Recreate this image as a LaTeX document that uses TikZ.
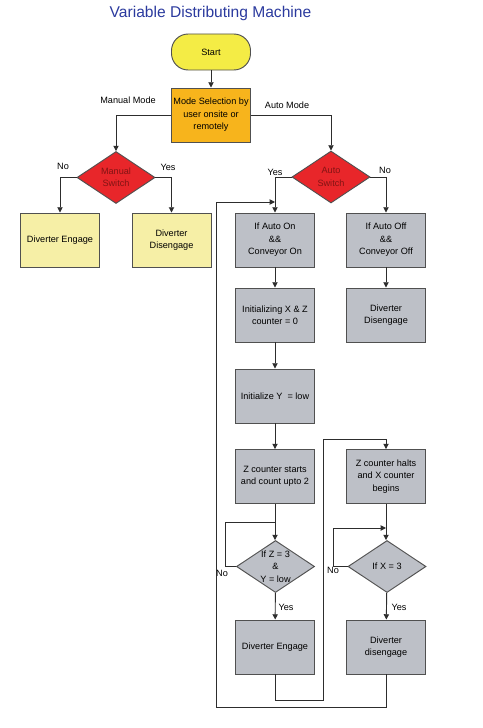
\documentclass[tikz,border=0pt]{standalone}
\usepackage{fontspec}
\setmainfont{Liberation Sans}
\usepackage{xcolor}
\usepackage{tikz}
\usetikzlibrary{arrows.meta, positioning, shapes.geometric}
\definecolor{titleblue}{RGB}{43,58,158}
\definecolor{startyellow}{RGB}{244,236,69}
\definecolor{modeorange}{RGB}{247,180,28}
\definecolor{switchred}{RGB}{232,38,42}
\definecolor{switchtext}{RGB}{130,20,20}
\definecolor{paleyellow}{RGB}{246,239,166}
\definecolor{boxgray}{RGB}{189,192,199}
\definecolor{edgegray}{RGB}{80,80,80}
\definecolor{linegray}{RGB}{45,45,45}

\begin{document}
\begin{tikzpicture}[
  x=0.03cm, y=-0.03cm,
  font=\fontsize{7.8}{10.6}\selectfont,
  box/.style={rectangle, draw=edgegray, line width=0.8pt,
              minimum width=2.37cm, minimum height=1.62cm,
              align=center, inner sep=1pt},
  ybox/.style={box, fill=paleyellow},
  gbox/.style={box, fill=boxgray},
  dia/.style={diamond, draw=edgegray, line width=0.8pt, aspect=1.5,
              minimum width=2.34cm, minimum height=1.56cm,
              inner sep=0pt, align=center},
  lbl/.style={inner sep=1pt},
  arr/.style={-{Triangle[length=4.5pt, width=4.5pt]}, line width=0.8pt, color=linegray},
  ln/.style={line width=0.8pt, color=linegray},
]
  \useasboundingbox (0,0) rectangle (483,728);

  \node[font=\fontsize{13.3}{16}\selectfont, text=titleblue] (title) at (210.5,13)
    {Variable Distributing Machine};

  % top of chart
  \node[rectangle, rounded corners=0.5cm, draw=edgegray, line width=0.8pt,
        fill=startyellow, minimum width=2.37cm, minimum height=1.08cm] (start) at (211,52) {Start};
  \node[box, fill=modeorange] (mode) at (211,115) {Mode Selection by\\user onsite or\\remotely};
  \node[lbl] (lman) at (128,100) {Manual Mode};
  \node[lbl] (lauto) at (287,105) {Auto Mode};

  % manual branch
  \node[dia, fill=switchred, text=switchtext] (man) at (116,177.5) {Manual\\Switch};
  \node[ybox] (engM) at (60,240) {Diverter Engage};
  \node[ybox] (disM) at (171.5,240) {Diverter\\Disengage};
  \node[lbl] (lmanno) at (63,166) {No};
  \node[lbl] (lmanyes) at (168,167) {Yes};

  % auto branch
  \node[dia, fill=switchred, text=switchtext] (auto) at (331,177) {Auto\\Switch};
  \node[lbl] (lautoyes) at (275,172) {Yes};
  \node[lbl] (lautono) at (385,170) {No};
  \node[gbox] (aon) at (275,240) {If Auto On\\\&\&\\Conveyor On};
  \node[gbox] (aoff) at (386,240) {If Auto Off\\\&\&\\Conveyor Off};
  \node[gbox] (init) at (275,315) {Initializing X \& Z\\counter = 0};
  \node[gbox] (disA) at (386,315) {Diverter\\Disengage};
  \node[gbox] (inity) at (275,396) {Initialize Y\ \ = low};
  \node[gbox] (zstart) at (275,476.5) {Z counter starts\\and count upto 2};
  \node[gbox] (zhalt) at (386,476.5) {Z counter halts\\and X counter\\begins};
  \node[dia, fill=boxgray] (zchk) at (275.5,566.5) {If Z = 3\\\&\\Y = low};
  \node[dia, fill=boxgray] (xchk) at (387,566.5) {If X = 3};
  \node[gbox] (engA) at (275,647) {Diverter Engage};
  \node[gbox] (disB) at (386,647) {Diverter\\disengage};
  \node[lbl] (lzno) at (222,573) {No};
  \node[lbl] (lxno) at (333,570) {No};
  \node[lbl] (lzyes) at (286,607) {Yes};
  \node[lbl] (lxyes) at (399,607) {Yes};

  \coordinate (jz) at (275,522);
  \coordinate (jx) at (386,528);
  \coordinate (jon) at (275,202);

  % connectors
  \draw[arr] (start) -- (mode);
  \draw[arr] (mode.west) -| (man.north);
  \draw[arr] (mode.east) -| (auto.north);
  \draw[arr] (man.west) -| (engM.north);
  \draw[arr] (man.east) -| (disM.north);
  \draw[arr] (auto.west) -| (aon.north);
  \draw[arr] (auto.east) -| (aoff.north);
  \draw[arr] (aoff) -- (disA);
  \draw[arr] (aon) -- (init);
  \draw[arr] (init) -- (inity);
  \draw[arr] (inity) -- (zstart);
  \draw[arr] (zstart) -- (zstart |- zchk.north);
  \draw[arr] (zchk) -- (engA);
  \draw[ln] (zchk.west) -- ++(-11,0) |- (jz);
  \draw[arr] (zhalt) -- (zhalt |- xchk.north);
  \draw[arr] (xchk.west) -- ++(-14,0) |- (jx);
  \draw[arr] (xchk) -- (disB);
  \draw[arr] (engA.south) -- ++(0,26) -| (323,439) -| (zhalt.north);
  \draw[arr] (disB.south) -- ++(0,33) -| (216,202) -- (jon);
\end{tikzpicture}
\end{document}
